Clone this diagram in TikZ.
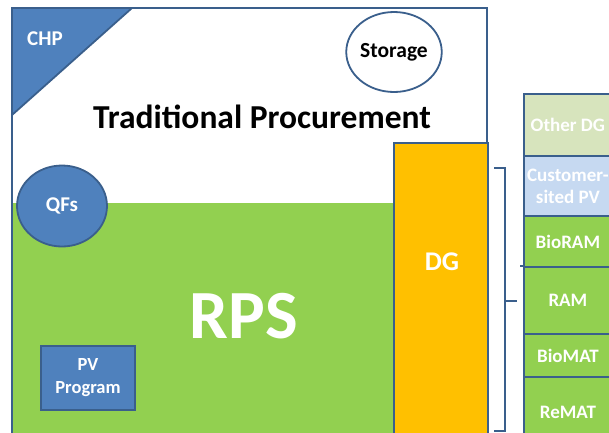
\documentclass[tikz,border=0pt]{standalone}
\usepackage{fontspec}
\usetikzlibrary{shapes.geometric}
\setmainfont{Carlito}
\definecolor{bfill}{HTML}{4F81BD}
\definecolor{bline}{HTML}{3A5F8C}
\definecolor{rgreen}{HTML}{92D050}
\definecolor{dgor}{HTML}{FFC000}
\definecolor{olive}{HTML}{D7E4BD}
\definecolor{lblue}{HTML}{C6D9F1}
\tikzset{
  edge/.style={draw=bline, line width=1.8pt},
  wlabel/.style={text=white, font=\bfseries\fontsize{21}{23}\selectfont, align=center},
  blabel/.style={text=black, font=\bfseries\fontsize{21.5}{23}\selectfont, align=center},
  colbox/.style={edge, minimum width=88pt, anchor=north west, inner sep=0pt, text=white, font=\bfseries\fontsize{19}{22}\selectfont, align=center},
}
\begin{document}
\begin{tikzpicture}[x=1pt,y=-1pt]
\useasboundingbox (0,0) rectangle (609,432);
\clip (0,0) rectangle (609,432);
% outer traditional procurement area
\fill[white] (12,8) rectangle (487,445);
\fill[rgreen] (12,203) rectangle (393,445);
\fill[bfill] (12,8) -- (132,8) -- (12,115) -- cycle;
\draw[edge] (12,115) -- (132,8);
\draw[edge] (12,445) -- (12,8) -- (487,8) -- (487,445);
\node[wlabel] (chp) at (45,39) {CHP};
% storage
\node[edge, ellipse, minimum width=88pt, minimum height=80pt, inner sep=0pt, blabel] (storage) at (394,52) {Storage};
\node[font=\bfseries\fontsize{33.5}{36}\selectfont] (trad) at (262,117) {Traditional Procurement};
% QFs
\node[edge, fill=bfill, ellipse, minimum width=90pt, minimum height=81pt, inner sep=0pt, wlabel] (qfs) at (62,206) {QFs};
% DG
\node[edge, fill=dgor, minimum width=94pt, minimum height=300pt, anchor=north west, inner sep=0pt] (dg) at (393,142) {};
\node[text=white, font=\bfseries\fontsize{27}{30}\selectfont] (dgl) at (442,262) {DG};
% RPS
\node[text=white, font=\bfseries\fontsize{69}{72}\selectfont] (rps) at (244,316) {RPS};
% PV Program
\node[edge, fill=bfill, minimum width=94pt, minimum height=64pt, inner sep=0pt, wlabel, font=\bfseries\fontsize{18.5}{23}\selectfont] (pv) at (88,378) {PV\\Program};
% right column
\node[colbox, fill=olive, minimum height=62pt] (odg) at (523,93) {Other DG};
\node[colbox, fill=lblue, minimum height=60pt] (cpv) at (523,155) {Customer-\\sited PV};
\node[colbox, fill=rgreen, minimum height=51pt] (bioram) at (523,215) {BioRAM};
\node[colbox, fill=rgreen, minimum height=67pt] (ram) at (523,266) {RAM};
\node[colbox, fill=rgreen, minimum height=43pt] (biomat) at (523,333) {BioMAT};
\node[colbox, fill=rgreen, minimum height=70pt] (remat) at (523,376) {ReMAT};
\coordinate (ramtick) at (520,266);
\draw[edge] (ramtick) -- (ram.north west);
% bracket
\coordinate (bt) at (494,168);
\coordinate (bb) at (494,431);
\coordinate (bm) at (517,301);
\draw[edge] (bt) -- (505,168) -- (505,431) -- (bb);
\draw[edge] (505,301) -- (bm);
\end{tikzpicture}
\end{document}
